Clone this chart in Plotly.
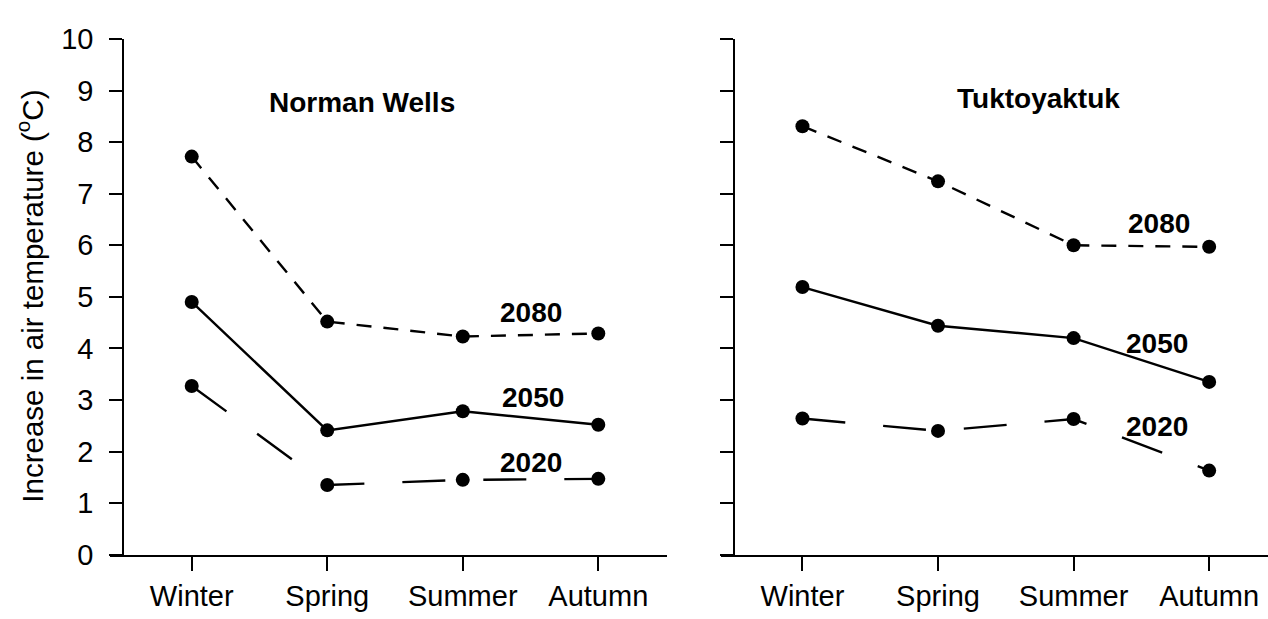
import plotly.graph_objects as go

# ---- data ----
seasons = ["Winter", "Spring", "Summer", "Autumn"]
season_pos = [0, 1, 2, 3]

nw_2080 = [7.72, 4.52, 4.23, 4.29]
nw_2050 = [4.90, 2.41, 2.78, 2.52]
nw_2020 = [3.27, 1.35, 1.45, 1.47]

tk_2080 = [8.31, 7.24, 6.00, 5.97]
tk_2050 = [5.19, 4.44, 4.20, 3.35]
tk_2020 = [2.64, 2.40, 2.63, 1.63]

y_ticks = list(range(0, 11))

W, H = 1268, 619
FONT = "Arial, Liberation Sans, Helvetica, sans-serif"
LW = 2.4
MS = 14

styles = {
    "2080": dict(color="black", width=LW, dash="15px,12px"),
    "2050": dict(color="black", width=LW, dash="solid"),
    "2020": dict(color="black", width=LW, dash="43px,38px"),
}

fig = go.Figure()

def add_panel(series, xa, ya):
    for name, vals in series:
        fig.add_trace(go.Scatter(
            x=season_pos, y=vals, mode="lines+markers", name=name,
            line=styles[name],
            marker=dict(color="black", size=MS),
            xaxis=xa, yaxis=ya, showlegend=False, cliponaxis=False,
        ))

add_panel([("2080", nw_2080), ("2050", nw_2050), ("2020", nw_2020)], "x", "y")
add_panel([("2080", tk_2080), ("2050", tk_2050), ("2020", tk_2020)], "x2", "y2")

px = lambda v: v / W
py = lambda v: 1 - v / H

ydom = [py(568), py(24.3)]

xcommon = dict(
    tickmode="array", tickvals=season_pos, ticktext=seasons,
    showline=True, linecolor="black", linewidth=2.2,
    ticks="outside", ticklen=14, tickwidth=2.2, tickcolor="black",
    showgrid=False, zeroline=False,
    tickfont=dict(family=FONT, size=29, color="black"),
    fixedrange=True,
)
ycommon = dict(
    range=[0, 10], domain=ydom, tickmode="array", tickvals=y_ticks,
    showline=True, linecolor="black", linewidth=2.2,
    ticks="outside", ticklen=13, tickwidth=2.2, tickcolor="black",
    showgrid=False, zeroline=False,
    tickfont=dict(family=FONT, size=29, color="black"),
    ticklabelstandoff=10,
    fixedrange=True,
)

fig.update_layout(
    width=W, height=H,
    margin=dict(l=0, r=0, t=0, b=0),
    paper_bgcolor="white", plot_bgcolor="white",
    xaxis=dict(domain=[px(110), px(667)], range=[-0.603, 3.507], anchor="y", **xcommon),
    yaxis=dict(anchor="free", position=px(123.3), **ycommon),
    xaxis2=dict(domain=[px(720.7), 1.0], range=[-0.603, 3.434], anchor="y2", **xcommon),
    yaxis2=dict(anchor="free", position=px(734.3), showticklabels=False, **ycommon),
)

ann_font = dict(family=FONT, size=28, color="black", weight="bold")
labels = [
    ("x", "y", 1.257, 8.76, "Norman Wells"),
    ("x2", "y2", 1.744, 8.84, "Tuktoyaktuk"),
    ("x", "y", 2.504, 4.70, "2080"),
    ("x", "y", 2.519, 3.04, "2050"),
    ("x", "y", 2.504, 1.78, "2020"),
    ("x2", "y2", 2.63, 6.43, "2080"),
    ("x2", "y2", 2.615, 4.10, "2050"),
    ("x2", "y2", 2.615, 2.48, "2020"),
]
for xr, yr, xv, yv, t in labels:
    fig.add_annotation(x=xv, y=yv, xref=xr, yref=yr, text=f"<b>{t}</b>",
                       showarrow=False, xanchor="center", yanchor="middle",
                       font=ann_font)

fig.add_annotation(x=px(30), y=py(296), xref="paper", yref="paper",
                   text="Increase in air temperature (<sup>o</sup>C)",
                   textangle=-90, showarrow=False, xanchor="center", yanchor="middle",
                   font=dict(family=FONT, size=29.5, color="black"))

fig.write_html(
    "out.html",
    config={"displayModeBar": False},
    post_script="document.body.style.margin='0';",
)
